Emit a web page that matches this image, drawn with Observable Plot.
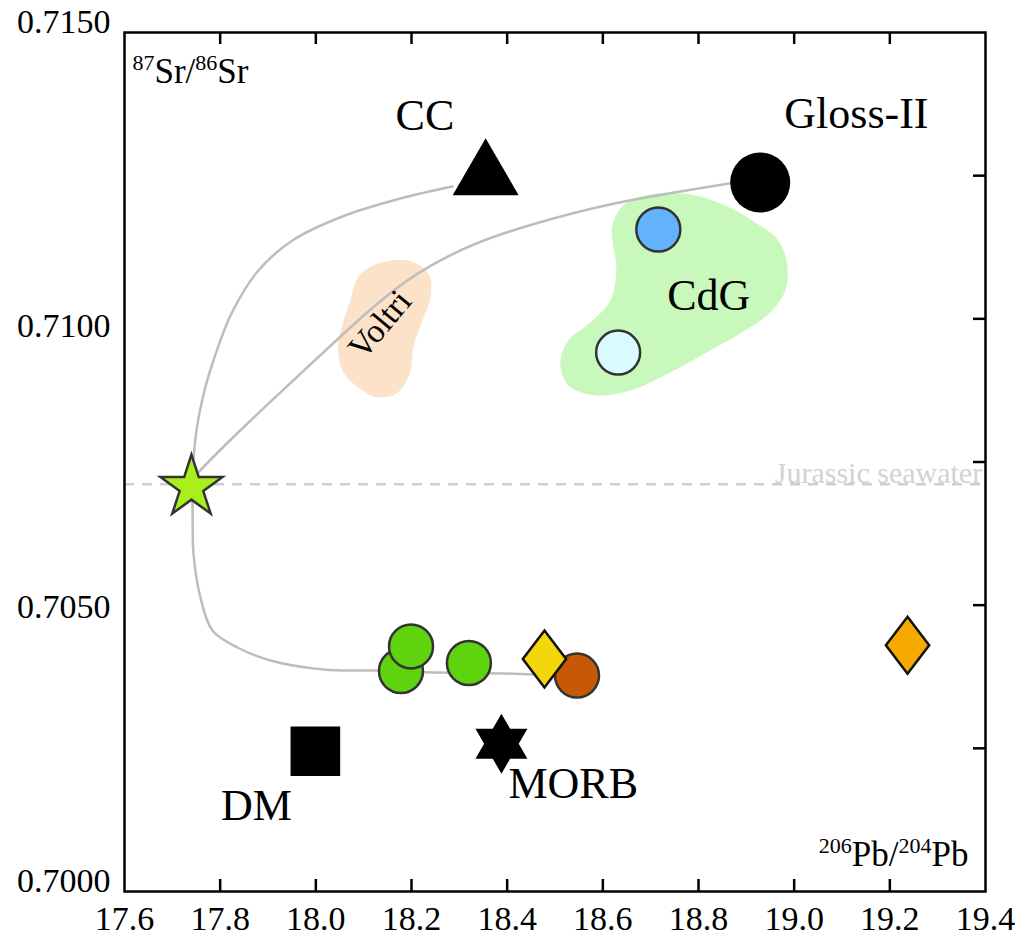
<!DOCTYPE html>
<html>
<head>
<meta charset="utf-8">
<script src="https://cdn.jsdelivr.net/npm/d3@7"></script>
<script src="https://cdn.jsdelivr.net/npm/@observablehq/plot@0.6"></script>
<style>
  html, body { margin: 0; padding: 0; background: #fff; }
  #chart svg { display: block; }
</style>
</head>
<body>
<div id="chart"></div>
<script>
// ---- axis ticks ----
const xTicks = [17.6, 17.8, 18.0, 18.2, 18.4, 18.6, 18.8, 19.0, 19.2, 19.4];
const xInnerTicks = [17.8, 18.0, 18.2, 18.4, 18.6, 18.8, 19.0, 19.2];
const yLabelTicks = [0.7000, 0.7050, 0.7100, 0.7150];
const yInnerTicks = [0.7025, 0.7050, 0.7075, 0.7100, 0.7125];

// ---- samples (206Pb/204Pb, 87Sr/86Sr) ----
const greenPb = [18.178, 18.199, 18.320];
const greenSr = [0.70385, 0.70428, 0.70399];
const brownPb = [18.546];
const brownSr = [0.70377];
const yellowPb = [18.478];
const yellowSr = [0.70406];
const orangePb = [19.237];
const orangeSr = [0.70430];
const bluePb = [18.716];
const blueSr = [0.71156];
const cyanPb = [18.632];
const cyanSr = [0.70941];
const starPb = [17.740];
const starSr = [0.70706];

// ---- end-members ----
const dmPb = [17.999];
const dmSr = [0.70245];
const morbPb = [18.388];
const morbSr = [0.70258];
const ccPb = [18.355];
const ccSr = [0.71249];
const glossPb = [18.929];
const glossSr = [0.71238];

// ---- Jurassic seawater ----
const seawaterSr = [0.70711];

// ---- mixing curves ----
const curveCCPb = [17.740, 17.7505, 17.7672, 17.7839, 17.8236, 17.8800, 17.9511, 18.0556, 18.1768, 18.2855];
const curveCCSr = [0.707055, 0.708050, 0.708748, 0.709220, 0.710093, 0.710844, 0.711368, 0.711787, 0.712101, 0.712311];
const curveGlossPb = [17.740, 17.7526, 17.8571, 17.9595, 18.0723, 18.1914, 18.3356, 18.4966, 18.6554, 18.8769];
const curveGlossSr = [0.707055, 0.707299, 0.708172, 0.708976, 0.709849, 0.710669, 0.711315, 0.711752, 0.712066, 0.712381];
const curveLowPb = [17.740, 17.7421, 17.7442, 17.7588, 17.7839, 17.8362, 17.9051, 18.0159, 18.1287, 18.2541, 18.3921, 18.4589];
const curveLowSr = [0.707055, 0.706775, 0.705902, 0.705134, 0.704558, 0.704261, 0.704034, 0.703877, 0.703859, 0.703824, 0.703807, 0.703789];

// ---- fields ----
const voltriPb = [18.1920, 18.2359, 18.2399, 18.2201, 18.2040, 18.1960, 18.1680, 18.1281, 18.0880, 18.0560, 18.0464, 18.0560, 18.0721, 18.0880, 18.1200];
const voltriSr = [0.711019, 0.710786, 0.710378, 0.709913, 0.709505, 0.709040, 0.708691, 0.708632, 0.708806, 0.709098, 0.709505, 0.709913, 0.710320, 0.710727, 0.710931];
const cdgPb = [18.6199, 18.6470, 18.6993, 18.7829, 18.8560, 18.9187, 18.9668, 18.9856, 18.9814, 18.9500, 18.8978, 18.8246, 18.7411, 18.6575, 18.5843, 18.5279, 18.5112, 18.5279, 18.5739, 18.6157, 18.6282];
const cdgSr = [0.711630, 0.712014, 0.712171, 0.712171, 0.711979, 0.711682, 0.711368, 0.710931, 0.710495, 0.710110, 0.709796, 0.709447, 0.709063, 0.708748, 0.708661, 0.708836, 0.709237, 0.709622, 0.709936, 0.710320, 0.710844];

// ---- labels ----
const labelText = ["CC", "Gloss-II", "CdG", "DM", "MORB"];
const labelPb = [18.228, 19.130, 18.8215, 17.876, 18.538];
const labelSr = [0.71329, 0.71334, 0.71015, 0.70124, 0.70164];
const voltriLabel = ["Voltri"];
const voltriLabelPb = [18.134];
const voltriLabelSr = [0.70990];
const seawaterLabel = ["Jurassic seawater"];
const seawaterLabelPb = [19.393];

// custom symbols
const diamondWide = {
  draw(ctx, size) {
    const h = Math.sqrt(size / Math.PI);
    const w = h * 0.76;
    ctx.moveTo(0, -h); ctx.lineTo(w, 0); ctx.lineTo(0, h); ctx.lineTo(-w, 0); ctx.closePath();
  }
};
const hexagram = {
  draw(ctx, size) {
    const R = Math.sqrt(size / Math.PI);
    const r = R / Math.sqrt(3);
    for (let k = 0; k < 12; k++) {
      const a = (-90 + k * 30) * Math.PI / 180;
      const rad = k % 2 === 0 ? R : r;
      const px = rad * Math.cos(a), py = rad * Math.sin(a);
      if (k === 0) ctx.moveTo(px, py); else ctx.lineTo(px, py);
    }
    ctx.closePath();
  }
};

const W = 1016, H = 939, ML = 124, MR = 31, MT = 32, MB = 48;
const PW = W - ML - MR, PH = H - MT - MB;
const edge = "#333";
const yLabelShift = [-10, 2, 7, -10]; // hand-placed offsets of the y labels in the original

const chart = Plot.plot({
  width: W, height: H,
  marginLeft: ML, marginRight: MR, marginTop: MT, marginBottom: MB,
  x: {domain: [17.6, 19.4]},
  y: {domain: [0.700, 0.715]},
  style: {fontFamily: "'Liberation Serif', 'Times New Roman', serif", background: "#fff", color: "#000"},
  marks: [
    // fields
    Plot.line(voltriPb, {x: voltriPb, y: voltriSr, curve: "catmull-rom-closed", fill: "#fbe2c9", stroke: "none"}),
    Plot.line(cdgPb, {x: cdgPb, y: cdgSr, curve: "catmull-rom-closed", fill: "#c9f8bc", stroke: "none"}),
    // seawater
    Plot.ruleY(seawaterSr, {stroke: "#cfcfcf", strokeWidth: 2.5, strokeDasharray: "10,8"}),
    Plot.text(seawaterLabel, {x: seawaterLabelPb, y: seawaterSr, text: d => d, textAnchor: "end", lineAnchor: "bottom", dy: -1, fontSize: 30, fill: "#d2d2d2"}),
    // mixing curves
    Plot.line(curveCCPb, {x: curveCCPb, y: curveCCSr, curve: "catmull-rom", stroke: "#bdbdbd", strokeWidth: 2.5}),
    Plot.line(curveGlossPb, {x: curveGlossPb, y: curveGlossSr, curve: "natural", stroke: "#bdbdbd", strokeWidth: 2.5}),
    Plot.line(curveLowPb, {x: curveLowPb, y: curveLowSr, curve: "catmull-rom", stroke: "#bdbdbd", strokeWidth: 2.5}),
    // Voltri label
    Plot.text(voltriLabel, {x: voltriLabelPb, y: voltriLabelSr, text: d => d, rotate: -50, fontSize: 34, fill: "#000"}),
    // end-members
    Plot.dot(dmPb, {x: dmPb, y: dmSr, symbol: "square", r: 28, fill: "#000", stroke: "none"}),
    Plot.dot(morbPb, {x: morbPb, y: morbSr, symbol: hexagram, r: 30, fill: "#000", stroke: "none"}),
    Plot.dot(ccPb, {x: ccPb, y: ccSr, symbol: "triangle", r: 24.5, fill: "#000", stroke: "none"}),
    Plot.dot(glossPb, {x: glossPb, y: glossSr, r: 30, fill: "#000", stroke: "none"}),
    // samples
    Plot.dot(bluePb, {x: bluePb, y: blueSr, r: 22, fill: "#62b3fb", stroke: edge, strokeWidth: 2.5}),
    Plot.dot(cyanPb, {x: cyanPb, y: cyanSr, r: 22, fill: "#d9fbff", stroke: edge, strokeWidth: 2.5}),
    Plot.dot(greenPb, {x: greenPb, y: greenSr, r: 22, fill: "#5fd30e", stroke: edge, strokeWidth: 2.5}),
    Plot.dot(brownPb, {x: brownPb, y: brownSr, r: 22, fill: "#c75906", stroke: edge, strokeWidth: 2.5}),
    Plot.dot(yellowPb, {x: yellowPb, y: yellowSr, symbol: diamondWide, r: 28.5, fill: "#f4d60c", stroke: "#111", strokeWidth: 2.5}),
    Plot.dot(orangePb, {x: orangePb, y: orangeSr, symbol: diamondWide, r: 28.5, fill: "#f6a900", stroke: "#111", strokeWidth: 2.5}),
    Plot.dot(starPb, {x: starPb, y: starSr, symbol: "star", r: 19.5, fill: "#aaef1d", stroke: edge, strokeWidth: 2.5}),
    // labels
    Plot.text(labelText, {x: labelPb, y: labelSr, text: d => d, lineAnchor: "bottom", fontSize: 44, fill: "#000"}),
    // axis titles
    Plot.text(["87Sr/86Sr"], {frameAnchor: "top-left", text: d => d, textAnchor: "start", lineAnchor: "bottom", dx: 8, dy: 50, fontSize: 35, fill: "#000"}),
    Plot.text(["206Pb/204Pb"], {frameAnchor: "bottom-right", text: d => d, textAnchor: "end", lineAnchor: "bottom", dx: -17, dy: -26, fontSize: 35, fill: "#000"}),
    // frame and inward ticks
    Plot.frame({stroke: "#000", strokeWidth: 2.5}),
    Plot.tickX(xInnerTicks, {x: d => d, insetBottom: PH - 12, stroke: "#000", strokeWidth: 2.5}),
    Plot.tickX(xInnerTicks, {x: d => d, insetTop: PH - 12, stroke: "#000", strokeWidth: 2.5}),
    Plot.tickY(yInnerTicks, {y: d => d, insetLeft: PW - 12, stroke: "#000", strokeWidth: 2.5}),
    // axis labels
    Plot.axisX({anchor: "bottom", ticks: xTicks, tickSize: 0, tickPadding: 14, tickFormat: d3.format(".1f"), fontSize: 34, label: null}),
    ...yLabelTicks.map((t, i) => Plot.axisY({anchor: "left", ticks: [t], tickSize: 0, tickPadding: 14, tickFormat: d3.format(".4f"), fontSize: 34, dy: yLabelShift[i], label: null}))
  ]
});

// superscripts for isotope notations
d3.select(chart).selectAll("text").each(function() {
  const t = this.textContent;
  if (t === "87Sr/86Sr" || t === "206Pb/204Pb") {
    const parts = t.match(/\d+|[^\d]+/g);
    const sel = d3.select(this);
    sel.text(null);
    let raised = false;
    parts.forEach(p => {
      const sp = sel.append("tspan").text(p);
      if (/^\d+$/.test(p)) {
        sp.attr("font-size", 22).attr("dy", raised ? 0 : -13);
        raised = true;
      } else {
        sp.attr("dy", raised ? 13 : 0);
        raised = false;
      }
    });
  }
});

document.getElementById("chart").appendChild(chart);
</script>
</body>
</html>
